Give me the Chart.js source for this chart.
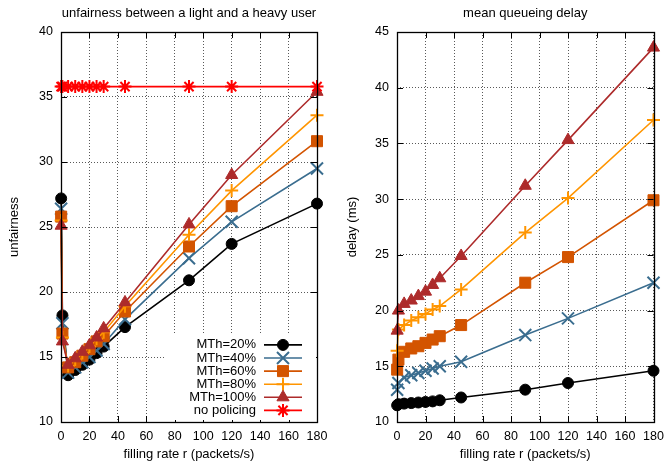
<!DOCTYPE html>
<html>
<head>
<meta charset="utf-8">
<script src="https://cdn.jsdelivr.net/npm/chart.js@4/dist/chart.umd.min.js"></script>
<style>
  html, body { margin: 0; padding: 0; background: #fff; }
  #wrap { position: relative; width: 664px; height: 466px; }
  canvas { position: absolute; top: 0; }
  #c1 { left: 0; }
  #c2 { left: 332px; }
</style>
</head>
<body>
<div id="wrap">
  <canvas id="c1" width="332" height="466"></canvas>
  <canvas id="c2" width="332" height="466"></canvas>
</div>
<script>
// ---- data ----
const fillingRate = [0.1, 1, 5, 10, 15, 20, 25, 30, 45, 90, 120, 180];
const seriesLabels = ['MTh=20%', 'MTh=40%', 'MTh=60%', 'MTh=80%', 'MTh=100%', 'no policing'];
const xTicks = [0, 20, 40, 60, 80, 100, 120, 140, 160, 180];
const unfairTicks = [10, 15, 20, 25, 30, 35, 40];
const delayTicks = [10, 15, 20, 25, 30, 35, 40, 45];

const unf20  = [27.2, 18.2, 13.6, 14.0, 14.4, 14.8, 15.3, 15.8, 17.3, 20.9, 23.7, 26.8];
const unf40  = [26.4, 17.6, 13.8, 14.2, 14.6, 15.0, 15.5, 16.0, 17.9, 22.6, 25.4, 29.5];
const unf60  = [25.8, 16.8, 14.2, 14.6, 15.1, 15.6, 16.2, 16.6, 18.5, 23.5, 26.6, 31.6];
const unf80  = [25.5, 16.5, 14.3, 14.8, 15.3, 15.8, 16.4, 16.9, 18.9, 24.4, 27.8, 33.6];
const unf100 = [25.1, 16.2, 14.4, 14.9, 15.4, 15.9, 16.5, 17.2, 19.2, 25.2, 29.0, 35.4];
const unfNoPolicing = [35.8, 35.8, 35.8, 35.8, 35.8, 35.8, 35.8, 35.8, 35.8, 35.8, 35.8, 35.8];

const del20  = [11.5, 11.6, 11.65, 11.7, 11.75, 11.8, 11.85, 11.95, 12.2, 12.9, 13.5, 14.6];
const del40  = [12.9, 13.5, 14.0, 14.2, 14.4, 14.6, 14.8, 15.0, 15.4, 17.8, 19.3, 22.5];
const del60  = [14.7, 15.6, 16.3, 16.6, 16.8, 17.1, 17.4, 17.7, 18.7, 22.5, 24.8, 29.9];
const del80  = [16.4, 18.3, 18.7, 19.1, 19.4, 19.7, 20.1, 20.4, 21.9, 27.0, 30.1, 37.1];
const del100 = [18.2, 20.0, 20.6, 20.9, 21.3, 21.7, 22.3, 22.9, 24.9, 31.2, 35.3, 43.6];

// ---- styles ----
const FONT = "'Liberation Sans', Arial, Helvetica, sans-serif";
const styles = [
  { color: '#000000', pointStyle: 'circle',   radius: 5.5, bw: 1 },
  { color: '#3a6d8f', pointStyle: 'crossRot', radius: 8.5, bw: 2 },
  { color: '#d35400', pointStyle: 'rect',     radius: 7.8, bw: 1 },
  { color: '#ff9500', pointStyle: 'cross',    radius: 6.5, bw: 2 },
  { color: '#ad2b2b', pointStyle: 'triangle', radius: 7,   bw: 1 },
  { color: '#ff0000', pointStyle: 'star',     radius: 6.5, bw: 2 }
];

function makeDatasets(arrays) {
  return arrays.map((arr, i) => {
    const s = styles[i];
    const filled = (s.pointStyle === 'circle' || s.pointStyle === 'rect' || s.pointStyle === 'triangle');
    return {
      label: seriesLabels[i],
      data: fillingRate.map((x, k) => ({ x: x, y: arr[k] })),
      borderColor: s.color,
      backgroundColor: s.color,
      borderWidth: 1.6,
      pointStyle: s.pointStyle,
      pointRadius: s.radius,
      pointHoverRadius: s.radius,
      pointBorderWidth: s.bw,
      pointBackgroundColor: filled ? s.color : 'transparent',
      pointBorderColor: s.color,
      tension: 0,
      clip: false,
      order: arrays.length - i
    };
  });
}

// frame + inward tick marks (gnuplot style) on all four sides
const framePlugin = {
  id: 'frame',
  afterDatasetsDraw(chart) {
    const { ctx, chartArea: a, scales } = chart;
    ctx.save();
    ctx.strokeStyle = '#000';
    ctx.lineWidth = 1;
    ctx.setLineDash([]);
    const L = 6;
    ctx.beginPath();
    scales.x.ticks.forEach(t => {
      const px = Math.round(scales.x.getPixelForValue(t.value)) + 0.5;
      ctx.moveTo(px, a.bottom); ctx.lineTo(px, a.bottom - L);
      ctx.moveTo(px, a.top); ctx.lineTo(px, a.top + L);
    });
    scales.y.ticks.forEach(t => {
      const py = Math.round(scales.y.getPixelForValue(t.value)) + 0.5;
      ctx.moveTo(a.left, py); ctx.lineTo(a.left + L, py);
      ctx.moveTo(a.right, py); ctx.lineTo(a.right - L, py);
    });
    ctx.stroke();
    ctx.lineWidth = 1.3;
    ctx.strokeRect(Math.round(a.left) + 0.5, Math.round(a.top) + 0.5,
                   Math.round(a.right - a.left), Math.round(a.bottom - a.top));
    ctx.restore();
  }
};

// gnuplot-like key: text, then line with marker
const keyPlugin = {
  id: 'gkey',
  afterDraw(chart, args, opts) {
    if (!opts || !opts.show) return;
    const { ctx, chartArea: a } = chart;
    const ds = chart.data.datasets;
    const rowH = 13.1;
    const textRight = a.right - 61;
    const lineL = a.right - 53, lineR = a.right - 15;
    const top = a.bottom - 6 - rowH * ds.length;
    ctx.save();
    ctx.fillStyle = '#fff';
    ctx.fillRect(a.left + 104, top - 3, a.right - a.left - 105, a.bottom - top + 1);
    ds.forEach((d, i) => {
      const y = top + 6.5 + rowH * i + 1;
      ctx.fillStyle = '#000';
      ctx.font = '13px ' + FONT;
      ctx.textAlign = 'right';
      ctx.textBaseline = 'middle';
      ctx.fillText(d.label, textRight, y);
      ctx.strokeStyle = d.borderColor;
      ctx.lineWidth = d.borderWidth;
      ctx.beginPath();
      ctx.moveTo(lineL, y); ctx.lineTo(lineR, y);
      ctx.stroke();
      ctx.fillStyle = d.pointBackgroundColor;
      ctx.strokeStyle = d.pointBorderColor;
      ctx.lineWidth = d.pointBorderWidth;
      const mx = (lineL + lineR) / 2;
      if (Chart.helpers && Chart.helpers.drawPoint) {
        Chart.helpers.drawPoint(ctx, { pointStyle: d.pointStyle, radius: d.pointRadius, rotation: 0, borderWidth: d.pointBorderWidth }, mx, y);
      }
    });
    ctx.restore();
  }
};

function makeOptions(title, yTitle, yMax, yWidth, yTitlePad, padRight, showKey) {
  return {
    responsive: false,
    animation: false,
    devicePixelRatio: 1,
    layout: { padding: { left: 0, right: padRight, top: 0, bottom: 0 } },
    plugins: {
      legend: { display: false },
      tooltip: { enabled: false },
      title: {
        display: true, text: title, fullSize: false, color: '#000',
        font: { family: FONT, size: 13, weight: 'normal' },
        padding: { top: 5.2, bottom: 11.2 }
      },
      gkey: { show: showKey }
    },
    scales: {
      x: {
        type: 'linear', min: 0, max: 180,
        afterBuildTicks: s => { s.ticks = xTicks.map(v => ({ value: v })); },
        afterFit: s => { s.height = 44; s.paddingLeft = 0; s.paddingRight = 0; },
        ticks: { color: '#000', padding: 7, maxRotation: 0, font: { family: FONT, size: 12.5 } },
        grid: { color: 'rgba(0,0,0,0.65)', lineWidth: 1, drawTicks: false },
        border: { display: false, dash: [1, 2] },
        title: { display: true, text: 'filling rate r (packets/s)', color: '#000',
                 font: { family: FONT, size: 13 }, padding: { top: 0, bottom: 4.2 } }
      },
      y: {
        type: 'linear', min: 10, max: yMax,
        afterBuildTicks: s => { s.ticks = (yMax === 40 ? unfairTicks : delayTicks).map(v => ({ value: v })); },
        afterFit: s => { s.width = yWidth; s.paddingTop = 0; s.paddingBottom = 0; },
        ticks: { color: '#000', padding: 8, font: { family: FONT, size: 12.5 } },
        grid: { color: 'rgba(0,0,0,0.65)', lineWidth: 1, drawTicks: false },
        border: { display: false, dash: [1, 2] },
        title: { display: true, text: yTitle, color: '#000',
                 font: { family: FONT, size: 13 }, padding: { top: yTitlePad, bottom: 0 } }
      }
    }
  };
}

new Chart(document.getElementById('c1'), {
  type: 'line',
  data: { datasets: makeDatasets([unf20, unf40, unf60, unf80, unf100, unfNoPolicing]) },
  options: makeOptions('unfairness between a light and a heavy user', 'unfairness', 40, 61, 6.2, 15, true),
  plugins: [framePlugin, keyPlugin]
});

new Chart(document.getElementById('c2'), {
  type: 'line',
  data: { datasets: makeDatasets([del20, del40, del60, del80, del100]) },
  options: makeOptions('mean queueing delay', 'delay (ms)', 45, 65, 12.2, 10, false),
  plugins: [framePlugin, keyPlugin]
});
</script>
</body>
</html>
